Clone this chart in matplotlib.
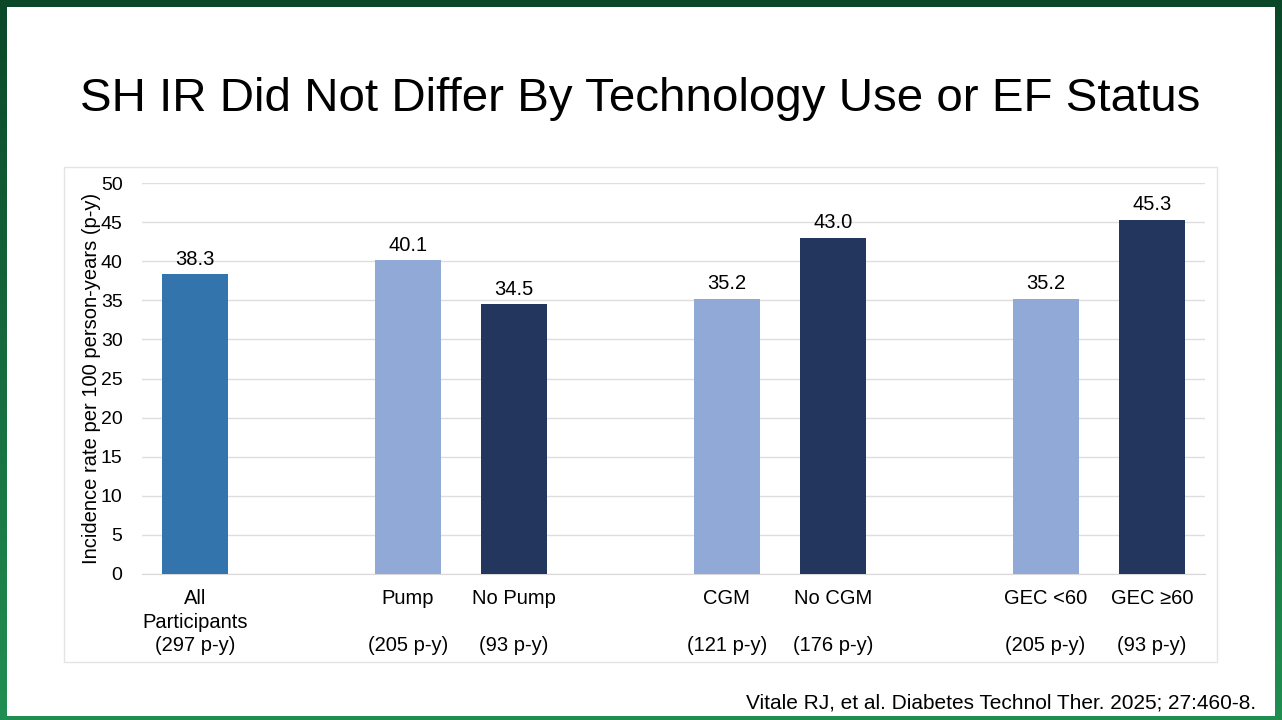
#!/usr/bin/env python3
"""severe hypoglycemia incidence rate by technology use / EF status"""
import numpy as np
import matplotlib.pyplot as plt
from matplotlib.patches import Rectangle

plt.rcParams['font.family'] = ['Liberation Sans', 'DejaVu Sans']

# data
groups = ["All\nParticipants\n(297 p-y)",
          "Pump\n\n(205 p-y)", "No Pump\n\n(93 p-y)",
          "CGM\n\n(121 p-y)", "No CGM\n\n(176 p-y)",
          "GEC <60\n\n(205 p-y)", "GEC \u226560\n\n(93 p-y)"]
rates = [38.3, 40.1, 34.5, 35.2, 43.0, 35.2, 45.3]
slots = [0, 2, 3, 5, 6, 8, 9]
colors = ["#3474ad", "#91a9d6", "#23365e", "#91a9d6", "#23365e",
          "#91a9d6", "#23365e"]

W, H = 1282, 720
fig = plt.figure(figsize=(W / 100, H / 100), dpi=100)

# green frame behind the slide
bg = fig.add_axes([0, 0, 1, 1])
grad = np.linspace(0, 1, 256).reshape(-1, 1)
top = np.array([0.04, 0.28, 0.16])
bot = np.array([0.13, 0.56, 0.32])
img = top + grad[..., None] * (bot - top)
bg.imshow(img, aspect='auto', extent=[0, W, H, 0])
bg.add_patch(Rectangle((7, 7), W - 14, H - 11, facecolor="#ffffff",
                       edgecolor="none"))
bg.add_patch(Rectangle((64, 167), 1217 - 64, 662 - 167, facecolor="#ffffff",
                       edgecolor="#e4e4e4", lw=1))
bg.set_xlim(0, W)
bg.set_ylim(H, 0)
bg.axis('off')

fig.text(640 / W, 1 - 99 / H, "SH IR Did Not Differ By Technology Use or EF Status",
         ha='center', va='center', fontsize=34.2, color="#000000")
fig.text(1256 / W, 1 - 703 / H,
         "Vitale RJ, et al. Diabetes Technol Ther. 2025; 27:460-8.",
         ha='right', va='center', fontsize=15, color="#000000")

ax = fig.add_axes([142 / W, 1 - 574 / H, 1063 / W, 391 / H])
ax.patch.set_alpha(0)
bars = ax.bar(slots, rates, width=0.62, color=colors, zorder=3)
for b, r in zip(bars, rates):
    ax.annotate(f"{r:.1f}", (b.get_x() + b.get_width() / 2, r),
                xytext=(0, 4), textcoords='offset points',
                ha='center', va='bottom', fontsize=14.5)

ax.set_xlim(-0.5, 9.5)
ax.set_ylim(0, 50)
ax.set_yticks(range(0, 51, 5))
ax.set_xticks(slots)
ax.set_xticklabels(groups, fontsize=14.5, linespacing=1.3)
ax.tick_params(axis='y', length=0, pad=14, labelsize=14)
ax.tick_params(axis='x', length=0, pad=11)
ax.grid(axis='y', color="#dedede", lw=1, zorder=0)
for s in ['top', 'right', 'left']:
    ax.spines[s].set_visible(False)
ax.spines['bottom'].set_color("#d9d9d9")
ax.set_ylabel("Incidence rate per 100 person-years (p-y)", fontsize=14.5,
              labelpad=0)

fig.savefig("out.png", dpi=100)
